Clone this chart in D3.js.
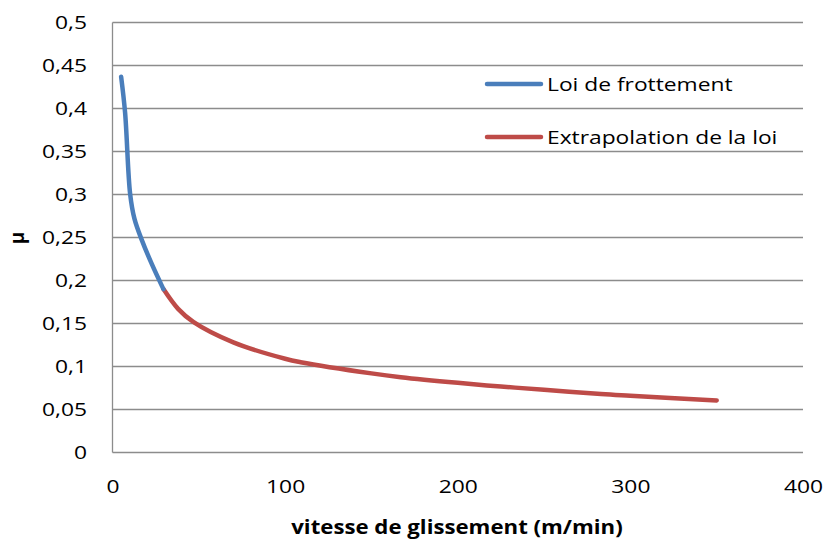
<!DOCTYPE html>
<html><head><meta charset="utf-8">
<script src="https://cdn.jsdelivr.net/npm/d3@7"></script>
<style>body{margin:0;background:#fff}svg{display:block}text{font-family:"Open Sans",sans-serif;fill:#000}</style>
</head><body><svg id="c" width="826" height="541"></svg>
<script>
const loiV = [5, 7.3, 10.2, 12.7, 17, 22.8, 29.5];
const loiMu = [0.437, 0.395, 0.301, 0.272, 0.247, 0.219, 0.190];
const extV = [29.5, 38, 47, 70, 100, 109, 150, 167, 200, 225, 250, 283, 300, 350];
const extMu = [0.190, 0.167, 0.1515, 0.128, 0.109, 0.105, 0.092, 0.0876, 0.081, 0.0767, 0.073, 0.068, 0.066, 0.0605];
const yTicks = [0, 0.05, 0.1, 0.15, 0.2, 0.25, 0.3, 0.35, 0.4, 0.45, 0.5];
const xTicks = [0, 100, 200, 300, 400];
const seriesNames = ["Loi de frottement", "Extrapolation de la loi"];
const colors = ["#4a7ebb", "#be4b48"];

const SX = 1.2, FS = "19px";
const svg = d3.select("#c");
const x = d3.scaleLinear().domain([0, 400]).range([112.5, 803]);
const y = d3.scaleLinear().domain([0, 0.5]).range([452.5, 22.5]);
const fmt = d => String(d).replace(".", ",");

svg.append("g").selectAll("line").data(yTicks).join("line")
  .attr("x1", x(0)).attr("x2", x(400)).attr("y1", d => y(d)).attr("y2", d => y(d))
  .attr("stroke", "#8c8c8c").attr("stroke-width", 1.3);
svg.append("line").attr("x1", x(0)).attr("x2", x(0)).attr("y1", y(0.5)).attr("y2", y(0))
  .attr("stroke", "#8c8c8c").attr("stroke-width", 1.3);

const yAxis = d3.axisLeft(y).tickValues(yTicks).tickFormat(fmt).tickSize(0).tickPadding(25.5);
const ga = svg.append("g").attr("transform", `translate(${x(0)},0)`).call(yAxis);
ga.select(".domain").remove();
ga.selectAll("text").style("font-size", FS).attr("font-family", "Open Sans")
  .attr("x", -25.5 / SX).attr("transform", `scale(${SX},1)`);

const xAxis = d3.axisBottom(x).tickValues(xTicks).tickFormat(d => d).tickSize(0).tickPadding(27);
const gx = svg.append("g").attr("transform", `translate(0,${y(0)})`).call(xAxis);
gx.select(".domain").remove();
gx.selectAll("text").style("font-size", FS).attr("font-family", "Open Sans")
  .attr("transform", `scale(${SX},1)`);

const curve = d3.curveCatmullRom.alpha(0.5);
const line = d3.line().x(d => x(d[0])).y(d => y(d[1])).curve(curve);
const s1 = loiV.map((v, i) => [v, loiMu[i]]);
const s2 = extV.map((v, i) => [v, extMu[i]]);
svg.append("path").datum(s2).attr("d", line).attr("fill", "none")
  .attr("stroke", colors[1]).attr("stroke-width", 4.5).attr("stroke-linecap", "round");
svg.append("path").datum(s1).attr("d", line).attr("fill", "none")
  .attr("stroke", colors[0]).attr("stroke-width", 4.5).attr("stroke-linecap", "round");

const leg = svg.append("g");
[84, 137].forEach((ly, i) => {
  leg.append("line").attr("x1", 487).attr("x2", 541).attr("y1", ly).attr("y2", ly)
    .attr("stroke", colors[i]).attr("stroke-width", 4.5).attr("stroke-linecap", "round");
  leg.append("text").attr("transform", `translate(547,${ly + 7}) scale(${SX},1)`)
    .style("font-size", FS).text(seriesNames[i]);
});

svg.append("text").attr("transform", `translate(457,534) scale(1.17,1)`).attr("text-anchor", "middle")
  .style("font-size", FS).style("font-weight", "bold").text("vitesse de glissement (m/min)");
svg.append("text").attr("transform", "translate(24,238) rotate(-90)").attr("text-anchor", "middle")
  .style("font-size", FS).style("font-weight", "bold").text("µ");
</script></body></html>
